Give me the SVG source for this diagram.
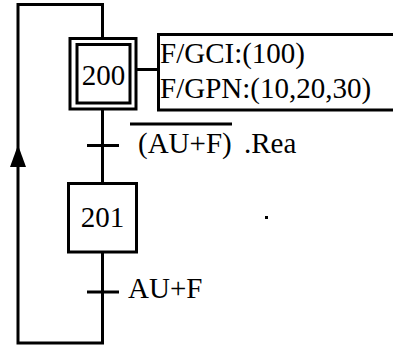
<svg xmlns="http://www.w3.org/2000/svg" width="393" height="349" viewBox="0 0 393 349">
<style>
.ln{fill:none;stroke:#000;stroke-width:3}
.bx{fill:#fff;stroke:#000;stroke-width:3}
text{font-family:'Liberation Serif','Times New Roman',serif;font-size:29px;fill:#000}
</style>
<rect width="393" height="349" fill="#fff"/>
<g id="connectors">
<polyline class="ln" points="102.5,38 102.5,4.5 18,4.5 18,343 102.5,343 102.5,252"/>
<line class="ln" x1="102.5" y1="109" x2="102.5" y2="183"/>
<line class="ln" x1="136" y1="69.5" x2="158.5" y2="69.5"/>
<polygon points="18,145 10,167 26,167" fill="#000"/>
</g>
<g id="step200">
<rect class="bx" x="70" y="38.5" width="66" height="70.5"/>
<rect class="bx" x="77" y="44.5" width="53" height="58.5"/>
<text x="103.5" y="85" text-anchor="middle">200</text>
</g>
<g id="action200">
<path class="ln" d="M395,34.5 H158.5 V110 H395"/>
<text x="160" y="63">F/GCI:(100)</text>
<text x="160" y="98">F/GPN:(10,20,30)</text>
</g>
<g id="transition1">
<line class="ln" x1="87" y1="145.5" x2="119" y2="145.5"/>
<line class="ln" x1="130" y1="124" x2="232" y2="124"/>
<text x="138" y="153">(AU+F)</text>
<text x="244" y="153">.Rea</text>
</g>
<g id="step201">
<rect class="bx" x="68.5" y="183.5" width="68" height="68.5"/>
<text x="102.5" y="227" text-anchor="middle">201</text>
</g>
<g id="transition2">
<line class="ln" x1="87" y1="292" x2="119" y2="292"/>
<text x="128" y="298">AU+F</text>
</g>
<rect x="265" y="216" width="3" height="3" fill="#000"/>
</svg>
